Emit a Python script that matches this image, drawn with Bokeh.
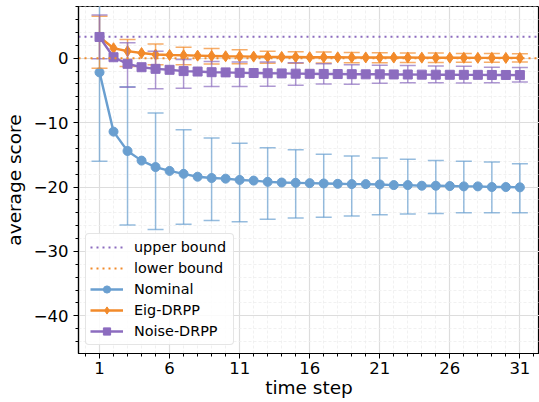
from bokeh.plotting import figure
from bokeh.models import FixedTicker, Range1d, Legend, LegendItem, ColumnDataSource
from bokeh.embed import file_html
from bokeh.resources import INLINE

steps = list(range(1, 32))
err_steps = list(range(1, 32, 2))

upper_bound = 3.35
lower_bound = 0.0

nominal_mean = [-2.2, -11.4, -14.4, -15.9, -16.9, -17.5, -17.95, -18.4, -18.6, -18.7,
                -18.9, -19.0, -19.2, -19.3, -19.35, -19.4, -19.45, -19.5, -19.55, -19.55,
                -19.6, -19.7, -19.7, -19.8, -19.8, -19.85, -19.9, -19.9, -20.0, -20.0, -20.05]
nominal_upper = [11.5, -4.45, -8.5, -11.1, -12.4, -13.2, -13.9, -14.2,
                 -14.9, -15.2, -15.5, -15.7, -15.9, -16.0, -16.1, -16.4]
nominal_lower = [-16.0, -25.9, -26.6, -25.8, -25.2, -25.4, -25.0, -24.8,
                 -24.7, -24.5, -24.3, -24.2, -24.1, -24.0, -24.0, -24.0]

eig_mean = [3.3, 1.55, 1.1, 0.8, 0.57, 0.5, 0.45, 0.4, 0.35, 0.3,
            0.28, 0.25, 0.22, 0.2, 0.18, 0.16, 0.15, 0.14, 0.13, 0.12,
            0.11, 0.1, 0.1, 0.09, 0.08, 0.08, 0.07, 0.06, 0.06, 0.05, 0.05]
eig_upper = [6.5, 2.9, 2.2, 1.7, 1.5, 1.3, 1.1, 1.0, 0.95, 0.9, 0.85, 0.8, 0.8, 0.75, 0.75, 0.7]
eig_lower = [-1.55, -1.3, -1.0, -1.0, -0.9, -0.85, -0.8, -0.78, -0.75, -0.72, -0.7, -0.68,
             -0.66, -0.64, -0.62, -0.6]

noise_mean = [3.3, 0.15, -0.87, -1.4, -1.65, -1.8, -2.0, -2.07, -2.17, -2.2,
              -2.27, -2.3, -2.33, -2.36, -2.4, -2.42, -2.44, -2.46, -2.48, -2.5,
              -2.5, -2.52, -2.53, -2.55, -2.56, -2.57, -2.58, -2.58, -2.6, -2.6, -2.62]
noise_upper = [6.7, 2.4, 1.1, -0.2, -0.5, -0.6, -0.6, -0.7, -0.85, -1.0, -1.1, -1.15,
               -1.2, -1.25, -1.4, -1.45]
noise_lower = [-0.1, -4.5, -4.75, -4.65, -4.4, -4.4, -4.35, -4.2, -4.0, -4.05, -3.9,
               -3.8, -3.8, -3.85, -3.8, -3.7]

x_ticks = [1, 6, 11, 16, 21, 26, 31]
y_ticks = [-40, -30, -20, -10, 0]

BLUE = "#6a9fd0"
ORANGE = "#f28a2a"
PURPLE = "#8c6cbf"
FONT = "DejaVu Sans"

XMIN, XMAX = -0.5, 32.4
YMIN, YMAX = -45.85, 8.03

p = figure(width=539, height=402, output_backend="svg", toolbar_location=None,
           x_range=Range1d(XMIN, XMAX), y_range=Range1d(YMIN, YMAX),
           min_border_left=77, min_border_right=0, min_border_top=6, min_border_bottom=49)
p.outline_line_color = "black"
p.outline_line_width = 1.2
p.background_fill_color = "white"
p.border_fill_color = "white"

p.xaxis.ticker = FixedTicker(ticks=x_ticks, minor_ticks=list(range(0, 33)))
p.yaxis.ticker = FixedTicker(ticks=y_ticks, minor_ticks=list(range(-44, 9, 2)))
p.yaxis.major_label_overrides = {v: ("\u2212" + str(-v) if v < 0 else str(v)) for v in y_ticks}
for ax in (p.xaxis, p.yaxis):
    ax.axis_line_color = "black"
    ax.axis_line_width = 1.2
    ax.major_tick_line_color = "black"
    ax.minor_tick_line_color = "black"
    ax.major_tick_out = 5
    ax.major_tick_in = 0
    ax.minor_tick_out = 3
    ax.minor_tick_in = 0
    ax.major_label_text_font = FONT
    ax.major_label_text_font_size = "16.5px"
    ax.major_label_text_color = "black"
    ax.axis_label_text_font = FONT
    ax.axis_label_text_font_size = "18.5px"
    ax.axis_label_text_font_style = "normal"
    ax.axis_label_text_color = "black"
p.xaxis.axis_label = "time step"
p.yaxis.axis_label = "average score"
p.xaxis.major_label_standoff = 3
p.xaxis.axis_label_standoff = 0
p.yaxis.axis_label_standoff = 6

for g in (p.xgrid, p.ygrid):
    g.grid_line_color = "#dddddd"
    g.grid_line_width = 1.2
    g.minor_grid_line_color = "#eeeeee"
    g.minor_grid_line_dash = "3 2"
    g.minor_grid_line_width = 0.8


def errorbars(mean_x, upper, lower, color):
    src = ColumnDataSource(dict(x=mean_x, up=upper, lo=lower))
    p.segment(x0="x", y0="lo", x1="x", y1="up", source=src, line_color=color,
              line_width=1.5, line_alpha=0.7)
    p.scatter(x="x", y="up", source=src, marker="dash", size=16, line_color=color,
              line_width=1.5, line_alpha=0.7)
    p.scatter(x="x", y="lo", source=src, marker="dash", size=16, line_color=color,
              line_width=1.5, line_alpha=0.7)


errorbars(err_steps, nominal_upper, nominal_lower, BLUE)
r_nom_l = p.line(steps, nominal_mean, line_color=BLUE, line_width=2.4)
r_nom_m = p.scatter(steps, nominal_mean, marker="circle", size=9, fill_color=BLUE, line_color=BLUE)

errorbars(err_steps, eig_upper, eig_lower, ORANGE)
r_eig_l = p.line(steps, eig_mean, line_color=ORANGE, line_width=2.4)
r_eig_m = p.scatter(steps, eig_mean, marker="diamond", size=11, fill_color=ORANGE, line_color=ORANGE)

errorbars(err_steps, noise_upper, noise_lower, PURPLE)
r_noi_l = p.line(steps, noise_mean, line_color=PURPLE, line_width=2.4)
r_noi_m = p.scatter(steps, noise_mean, marker="square", size=9, fill_color=PURPLE, line_color=PURPLE)

r_ub = p.line([XMIN, XMAX], [upper_bound, upper_bound], line_color=PURPLE, line_width=2,
              line_dash="2 4")
r_lb = p.line([XMIN, XMAX], [lower_bound, lower_bound], line_color=ORANGE, line_width=2,
              line_dash="2 4")

legend = Legend(items=[
    LegendItem(label="upper bound", renderers=[r_ub]),
    LegendItem(label="lower bound", renderers=[r_lb]),
    LegendItem(label="Nominal", renderers=[r_nom_l, r_nom_m]),
    LegendItem(label="Eig-DRPP", renderers=[r_eig_l, r_eig_m]),
    LegendItem(label="Noise-DRPP", renderers=[r_noi_l, r_noi_m]),
], location=(7, 8))
legend.label_text_font = FONT
legend.label_text_font_size = "14.4px"
legend.label_text_color = "black"
legend.glyph_width = 33
legend.glyph_height = 18
legend.label_height = 18
legend.label_width = 95
legend.spacing = 3
legend.padding = 4
legend.margin = 0
legend.label_standoff = 11
legend.border_line_color = "#cccccc"
legend.border_line_width = 1
legend.border_radius = 4
legend.background_fill_alpha = 0.85
p.add_layout(legend)

open("out.html", "w").write(file_html(p, INLINE))
